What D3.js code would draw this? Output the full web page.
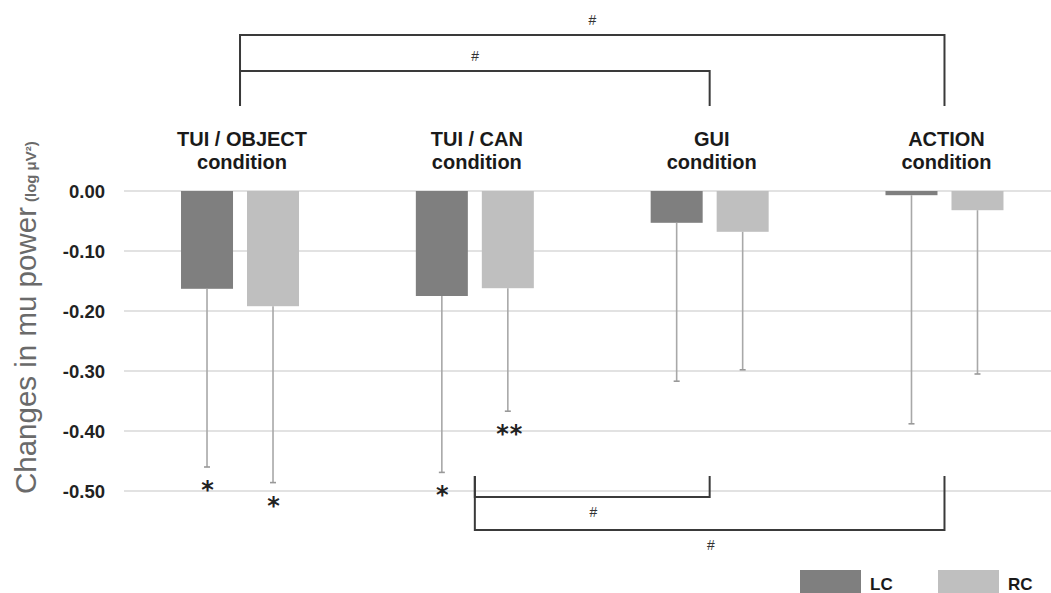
<!DOCTYPE html>
<html>
<head>
<meta charset="utf-8">
<script src="https://cdn.jsdelivr.net/npm/d3@7"></script>
<style>
  html, body { margin: 0; padding: 0; background: #fff; }
  svg { display: block; font-family: "Liberation Sans", Arial, sans-serif; }
</style>
</head>
<body>
<svg id="chart" width="1051" height="593"></svg>
<script>
// ── Datos ──
const conditions = ["TUI / OBJECT", "TUI / CAN", "GUI", "ACTION"];
const series = ["LC", "RC"];
const lcMeans = [-0.163, -0.175, -0.053, -0.007];
const rcMeans = [-0.192, -0.162, -0.068, -0.032];
const lcErr = [0.297, 0.294, 0.264, 0.381];
const rcErr = [0.294, 0.205, 0.230, 0.273];
// marcas de significancia bajo cada barra
const lcStars = ["*", "*", "", ""];
const rcStars = ["*", "**", "", ""];
const yTicks = [0, -0.1, -0.2, -0.3, -0.4, -0.5];
// comparaciones entre condiciones (#)
const topComparisons = [["TUI / OBJECT", "ACTION"], ["TUI / OBJECT", "GUI"]];
const bottomComparisons = [["TUI / CAN", "GUI"], ["TUI / CAN", "ACTION"]];

const COLORS = { LC: "#7f7f7f", RC: "#bfbfbf" };

const svg = d3.select("#chart");

const x = d3.scaleBand().domain(conditions).range([122.6, 1061.9]).padding(0);
const xs = d3.scaleBand().domain(series).range([-59, 59]).paddingInner(0.212);
const y = d3.scaleLinear().domain([-0.5, 0]).range([491, 191]);
const cx = c => x(c) + x.bandwidth() / 2;
const fmt = d => d3.format(".2f")(d).replace("−", "-");

const bars = conditions.flatMap((c, i) => [
  { cond: c, s: "LC", v: lcMeans[i], e: lcErr[i], star: lcStars[i] },
  { cond: c, s: "RC", v: rcMeans[i], e: rcErr[i], star: rcStars[i] },
]);

// ── Rejilla ──
svg.append("g").selectAll("line").data(yTicks).join("line")
  .attr("x1", 124).attr("x2", 1051)
  .attr("y1", d => y(d)).attr("y2", d => y(d))
  .attr("stroke", "#d9d9d9").attr("stroke-width", 1.6);

// ── Etiquetas eje Y ──
svg.append("g").selectAll("text").data(yTicks).join("text")
  .attr("x", 105).attr("y", d => y(d) + 6.5)
  .attr("text-anchor", "end")
  .attr("font-size", 18.5).attr("font-weight", "bold").attr("fill", "#222")
  .text(fmt);

svg.append("text")
  .attr("transform", "translate(36,494) rotate(-90)")
  .attr("fill", "#6a6a6a")
  .call(t => {
    t.append("tspan").attr("font-size", 29.5).text("Changes in mu power");
    t.append("tspan").attr("font-size", 15).attr("font-weight", "bold")
      .attr("dx", 5).text("(log μV²)");
  });

// ── Barras ──
const barX = d => cx(d.cond) + xs(d.s);
svg.append("g").selectAll("rect").data(bars).join("rect")
  .attr("x", barX)
  .attr("width", xs.bandwidth())
  .attr("y", y(0))
  .attr("height", d => y(d.v) - y(0))
  .attr("fill", d => COLORS[d.s]);

// ── Barras de error ──
const errG = svg.append("g");
errG.selectAll("line.stem").data(bars).join("line").attr("class", "stem")
  .attr("x1", d => barX(d) + xs.bandwidth() / 2).attr("x2", d => barX(d) + xs.bandwidth() / 2)
  .attr("y1", d => y(d.v)).attr("y2", d => y(d.v - d.e))
  .attr("stroke", "#a8a8a8").attr("stroke-width", 1.6);
errG.selectAll("line.cap").data(bars).join("line").attr("class", "cap")
  .attr("x1", d => barX(d) + xs.bandwidth() / 2 - 3).attr("x2", d => barX(d) + xs.bandwidth() / 2 + 3)
  .attr("y1", d => y(d.v - d.e)).attr("y2", d => y(d.v - d.e))
  .attr("stroke", "#999").attr("stroke-width", 1.6);

// Asteriscos
svg.append("g").selectAll("text").data(bars.filter(d => d.star)).join("text")
  .attr("x", d => barX(d) + xs.bandwidth() / 2 + (d.star.length > 1 ? 2 : 1))
  .attr("y", d => y(d.v - d.e) + 31)
  .attr("text-anchor", "middle")
  .attr("font-family", "DejaVu Sans").attr("font-weight", "bold")
  .attr("font-size", 24).attr("fill", "#222")
  .attr("letter-spacing", 1)
  .text(d => d.star);

// ── Nombres de condición ──
const lab = svg.append("g").selectAll("text").data(conditions).join("text")
  .attr("text-anchor", "middle")
  .attr("font-size", 20).attr("font-weight", "bold").attr("fill", "#1a1a1a");
lab.append("tspan").attr("x", d => cx(d) + 2).attr("y", 146).text(d => d);
lab.append("tspan").attr("x", d => cx(d) + 2).attr("y", 169).text("condition");

// ── Corchetes de comparación ──
function bracket(g, a, b, yBar, yEnd, labelY, labelX) {
  g.append("path")
    .attr("d", `M${cx(a)},${yEnd}V${yBar}H${cx(b)}V${yEnd}`)
    .attr("fill", "none").attr("stroke", "#3a3a3a").attr("stroke-width", 2);
  g.append("text")
    .attr("x", labelX).attr("y", labelY)
    .attr("text-anchor", "middle").attr("font-size", 14).attr("fill", "#333")
    .attr("font-style", "italic")
    .text("#");
}
const brG = svg.append("g");
const topLevels = [35, 71];
topComparisons.forEach(([a, b], i) => {
  bracket(brG, a, b, topLevels[i], 106, topLevels[i] - 10, (cx(a) + cx(b)) / 2);
});
const bottomLevels = [497, 530];
bottomComparisons.forEach(([a, b], i) => {
  bracket(brG, a, b, bottomLevels[i], 476, bottomLevels[i] + 20, (cx(a) + cx(b)) / 2 + 1);
});

// ── Leyenda ──
const legX = [800, 938];
const leg = svg.append("g").selectAll("g").data(series).join("g")
  .attr("transform", (d, i) => `translate(${legX[i]},570)`);
leg.append("rect").attr("width", 61).attr("height", 30).attr("fill", d => COLORS[d]);
leg.append("text").attr("x", 70).attr("y", 20)
  .attr("font-size", 17).attr("font-weight", "bold").attr("fill", "#1a1a1a")
  .text(d => d);
</script>
</body>
</html>
